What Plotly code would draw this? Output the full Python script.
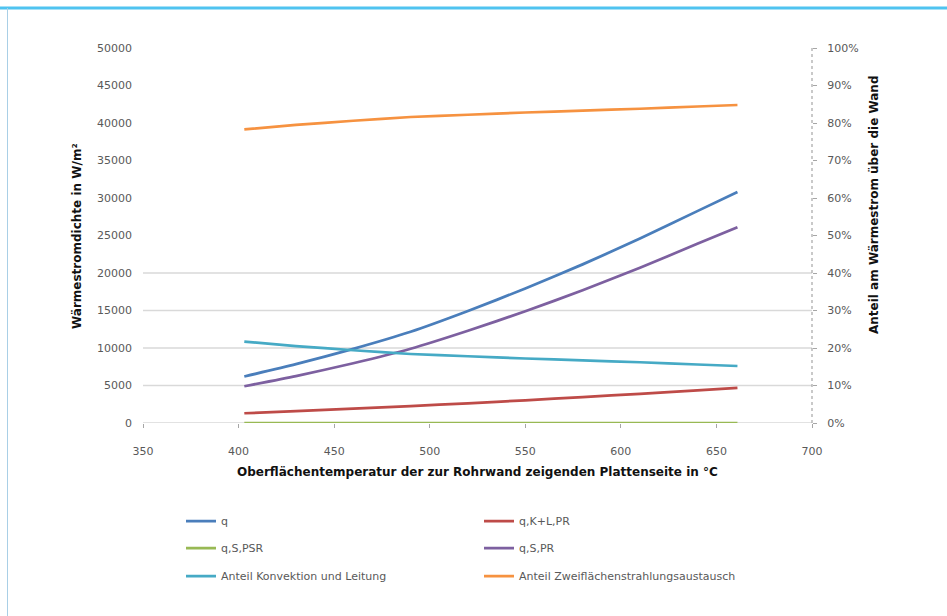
import plotly.graph_objects as go

# Oberflächentemperatur der Plattenseite in °C
temperatur = [403, 430, 460, 490, 520, 550, 580, 610, 640, 661]

# Wärmestromdichten in W/m²
q_gesamt = [6200, 7840, 9880, 12160, 14930, 17930, 21150, 24590, 28250, 30790]
q_kl_pr = [1300, 1580, 1910, 2260, 2630, 3030, 3450, 3890, 4350, 4690]
q_s_psr = [0, 0, 0, 0, 0, 0, 0, 0, 0, 0]
q_s_pr = [4900, 6260, 7970, 9900, 12300, 14900, 17700, 20700, 23900, 26100]

# Anteile am Wärmestrom über die Wand in %
anteil_konvektion = [21.7, 20.5, 19.4, 18.4, 17.8, 17.2, 16.7, 16.2, 15.6, 15.2]
anteil_strahlung = [78.3, 79.5, 80.6, 81.6, 82.2, 82.8, 83.3, 83.8, 84.4, 84.8]

# Achsenteilung
x_ticks = [350, 400, 450, 500, 550, 600, 650, 700]
y_ticks = [0, 5000, 10000, 15000, 20000, 25000, 30000, 35000, 40000, 45000, 50000]
y2_ticks = [0, 10, 20, 30, 40, 50, 60, 70, 80, 90, 100]
y2_labels = ["0%", "10%", "20%", "30%", "40%", "50%", "60%", "70%", "80%", "90%", "100%"]
grid_werte = [0, 5000, 10000, 15000, 20000]

W, H = 947, 616
ML, MR, MT, MB = 143, 135, 48, 193
PW, PH = W - ML - MR, H - MT - MB


def fx(px):
    return (px - ML) / PW


def fy(py):
    return (H - MB - py) / PH


FONT = "DejaVu Sans"
GRAU = "#595959"

fig = go.Figure()

serien = [
    ("q", temperatur, q_gesamt, "#4A7EBB", "y", "legend"),
    ("q,K+L,PR", temperatur, q_kl_pr, "#BE4B48", "y", "legend"),
    ("q,S,PSR", temperatur, q_s_psr, "#98B954", "y", "legend2"),
    ("q,S,PR", temperatur, q_s_pr, "#7D60A0", "y", "legend2"),
    ("Anteil Konvektion und Leitung", temperatur, anteil_konvektion, "#46AAC5", "y2", "legend3"),
    ("Anteil Zweiflächenstrahlungsaustausch", temperatur, anteil_strahlung, "#F69240", "y2", "legend3"),
]
for name, xs, ys, farbe, achse, leg in serien:
    fig.add_trace(go.Scatter(
        x=xs, y=ys, name=name, mode="lines", yaxis=achse, legend=leg,
        line=dict(color=farbe, width=2.75, shape="spline", smoothing=0.6),
    ))

shapes = []
# horizontale Gitterlinien
for v in grid_werte:
    shapes.append(dict(type="line", xref="paper", yref="y", x0=0, x1=1, y0=v, y1=v,
                       line=dict(color="#D9D9D9", width=1.5), layer="below"))
# gepunktete Sekundärachse
shapes.append(dict(type="line", xref="paper", yref="paper", x0=1, x1=1, y0=0, y1=1,
                   line=dict(color="#A6A6A6", width=1.2, dash="dot"), layer="below"))
# Rahmen oben und links
shapes.append(dict(type="line", xref="paper", yref="paper", x0=fx(0), x1=fx(W), y0=fy(8), y1=fy(8),
                   line=dict(color="#4FC3F0", width=3)))
shapes.append(dict(type="line", xref="paper", yref="paper", x0=fx(7.5), x1=fx(7.5), y0=fy(8), y1=fy(H),
                   line=dict(color="#A9CFE6", width=1)))

annotations = [
    dict(text="<b>Wärmestromdichte in W/m²</b>", xref="paper", yref="paper",
         x=fx(68), y=fy(236), textangle=-90, showarrow=False,
         font=dict(family=FONT, size=12, color="#111111")),
    dict(text="<b>Anteil am Wärmestrom über die Wand</b>", xref="paper", yref="paper",
         x=fx(883), y=fy(205), textangle=-90, showarrow=False,
         font=dict(family=FONT, size=12, color="#111111")),
    dict(text="<b>Oberflächentemperatur der zur Rohrwand zeigenden Plattenseite in °C</b>",
         xref="paper", yref="paper", x=0.5, y=fy(481), showarrow=False,
         font=dict(family=FONT, size=12, color="#111111")),
]

leg_stil = dict(orientation="h", xanchor="left", yanchor="middle", x=fx(181),
                entrywidth=253, bgcolor="rgba(0,0,0,0)",
                font=dict(family=FONT, size=11, color=GRAU))

fig.update_layout(
    width=W, height=H,
    margin=dict(l=ML, r=MR, t=MT, b=MB, autoexpand=False),
    paper_bgcolor="white", plot_bgcolor="white",
    shapes=shapes, annotations=annotations,
    legend=dict(leg_stil, y=fy(521)),
    legend2=dict(leg_stil, y=fy(548)),
    legend3=dict(leg_stil, y=fy(576)),
    xaxis=dict(range=[350, 700], tickvals=x_ticks, showgrid=False, zeroline=False,
               showline=False, ticks="outside", ticklen=4, tickcolor="#A6A6A6",
               ticklabelstandoff=14, tickfont=dict(family=FONT, size=11, color=GRAU)),
    yaxis=dict(range=[0, 50000], tickvals=y_ticks, tickformat="d", showgrid=False,
               zeroline=False, showline=False, ticks="", ticklabelstandoff=10,
               tickfont=dict(family=FONT, size=11, color=GRAU)),
    yaxis2=dict(range=[0, 100], tickvals=y2_ticks, ticktext=y2_labels, overlaying="y",
                side="right", showgrid=False, zeroline=False, showline=False,
                ticks="outside", ticklen=4, tickcolor="#A6A6A6", ticklabelstandoff=8,
                tickfont=dict(family=FONT, size=11, color=GRAU)),
    showlegend=True,
)

fig.write_html("out.html")
